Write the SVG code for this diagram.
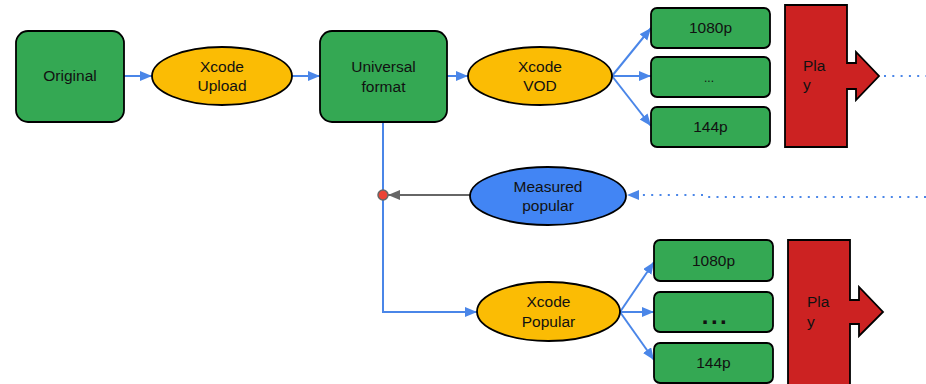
<svg xmlns="http://www.w3.org/2000/svg" width="926" height="384" viewBox="0 0 926 384">
  <defs>
    <marker id="arrowBlue" markerUnits="userSpaceOnUse" markerWidth="14" markerHeight="12" refX="12" refY="5" orient="auto">
      <path d="M0,0 L12,5 L0,10 Z" fill="#4a86e8"/>
    </marker>
    <marker id="arrowGray" markerUnits="userSpaceOnUse" markerWidth="14" markerHeight="12" refX="12" refY="5" orient="auto">
      <path d="M0,0 L12,5 L0,10 Z" fill="#666666"/>
    </marker>
    <style>
      .box { fill: #34a853; stroke: #000; stroke-width: 1.8; }
      .xcode { fill: #fbbc04; stroke: #000; stroke-width: 1.8; }
      .measure { fill: #4285f4; stroke: #000; stroke-width: 1.8; }
      .play { fill: #cc2222; stroke: #000; stroke-width: 1.8; }
      .label { font-family: "Liberation Sans", Arial, sans-serif; font-size: 15.5px; fill: #111; text-anchor: middle; }
      .playlabel { font-family: "Liberation Sans", Arial, sans-serif; font-size: 15.5px; fill: #111; }
      .flow { fill: none; stroke: #4a86e8; stroke-width: 2; marker-end: url(#arrowBlue); }
      .dots { fill: none; stroke: #4a86e8; stroke-width: 2; stroke-dasharray: 2 6.3; }
    </style>
  </defs>

  <!-- connectors -->
  <g id="connectors">
    <line class="flow" x1="124" y1="76" x2="152" y2="76"/>
    <line class="flow" x1="292" y1="76" x2="320" y2="76"/>
    <line class="flow" x1="447" y1="76" x2="468" y2="76"/>
    <line class="flow" x1="612" y1="76" x2="651" y2="28"/>
    <line class="flow" x1="612" y1="76" x2="651" y2="76"/>
    <line class="flow" x1="612" y1="76" x2="651" y2="126"/>
    <polyline class="flow" points="383,122 383,312 477,312"/>
    <line class="flow" x1="620" y1="312" x2="654" y2="262"/>
    <line class="flow" x1="620" y1="312" x2="654" y2="312"/>
    <line class="flow" x1="620" y1="312" x2="654" y2="360"/>
    <line x1="470" y1="195" x2="388" y2="195" stroke="#666666" stroke-width="2" marker-end="url(#arrowGray)"/>
    <!-- dotted feedback from playback -->
    <line class="dots" x1="926" y1="197" x2="705" y2="197"/>
    <line class="dots" x1="703" y1="195" x2="640" y2="195"/>
    <path d="M627,195 L639,190 L639,200 Z" fill="#4a86e8"/>
    <line class="dots" x1="884" y1="76" x2="926" y2="76"/>
    <circle cx="383" cy="195" r="5" fill="#ea4335" stroke="#666666" stroke-width="1.5"/>
  </g>

  <g id="original">
    <rect class="box" x="16" y="31" width="108" height="91" rx="12"/>
    <text class="label" x="70" y="81">Original</text>
  </g>

  <g id="xcode-upload">
    <ellipse class="xcode" cx="222" cy="76" rx="70" ry="29"/>
    <text class="label" x="222" y="71.5">Xcode</text>
    <text class="label" x="222" y="91">Upload</text>
  </g>

  <g id="universal-format">
    <rect class="box" x="320" y="31" width="127" height="91" rx="12"/>
    <text class="label" x="383.5" y="72">Universal</text>
    <text class="label" x="383.5" y="91.5">format</text>
  </g>

  <g id="xcode-vod">
    <ellipse class="xcode" cx="540" cy="76" rx="72" ry="29"/>
    <text class="label" x="540" y="71.5">Xcode</text>
    <text class="label" x="540" y="91">VOD</text>
  </g>

  <g id="vod-1080p">
    <rect class="box" x="651" y="8" width="119" height="40" rx="6"/>
    <text class="label" x="710.5" y="33">1080p</text>
  </g>
  <g id="vod-more">
    <rect class="box" x="651" y="57" width="119" height="40" rx="6"/>
    <text class="label" x="709" y="81.5" style="font-size:12px">...</text>
  </g>
  <g id="vod-144p">
    <rect class="box" x="651" y="107" width="119" height="40" rx="6"/>
    <text class="label" x="710.5" y="132">144p</text>
  </g>

  <g id="play-vod">
    <polygon class="play" points="785,5 847,5 847,63 856,63 856,52 879,76 856,100 856,89 847,89 847,147 785,147"/>
    <text class="playlabel" x="803" y="71">Pla</text>
    <text class="playlabel" x="803" y="90">y</text>
  </g>

  <g id="measured-popular">
    <ellipse class="measure" cx="548" cy="196" rx="78" ry="29"/>
    <text class="label" x="548" y="191.5">Measured</text>
    <text class="label" x="548" y="211">popular</text>
  </g>

  <g id="xcode-popular">
    <ellipse class="xcode" cx="548.5" cy="311.5" rx="71.5" ry="29.5"/>
    <text class="label" x="548.5" y="307">Xcode</text>
    <text class="label" x="548.5" y="326.5">Popular</text>
  </g>

  <g id="popular-1080p">
    <rect class="box" x="654" y="240" width="119" height="41" rx="6"/>
    <text class="label" x="713.5" y="266">1080p</text>
  </g>
  <g id="popular-more">
    <rect class="box" x="654" y="292" width="119" height="40" rx="6"/>
    <text class="label" x="715.5" y="324" style="font-size:24px;font-weight:bold;letter-spacing:2.5px">...</text>
  </g>
  <g id="popular-144p">
    <rect class="box" x="654" y="343" width="119" height="40" rx="6"/>
    <text class="label" x="713.5" y="368">144p</text>
  </g>

  <g id="play-popular">
    <polygon class="play" points="788,240 850,240 850,300 859,300 859,287 883,312 859,336 859,324 850,324 850,392 788,392"/>
    <text class="playlabel" x="807" y="307">Pla</text>
    <text class="playlabel" x="807" y="327">y</text>
  </g>
</svg>
